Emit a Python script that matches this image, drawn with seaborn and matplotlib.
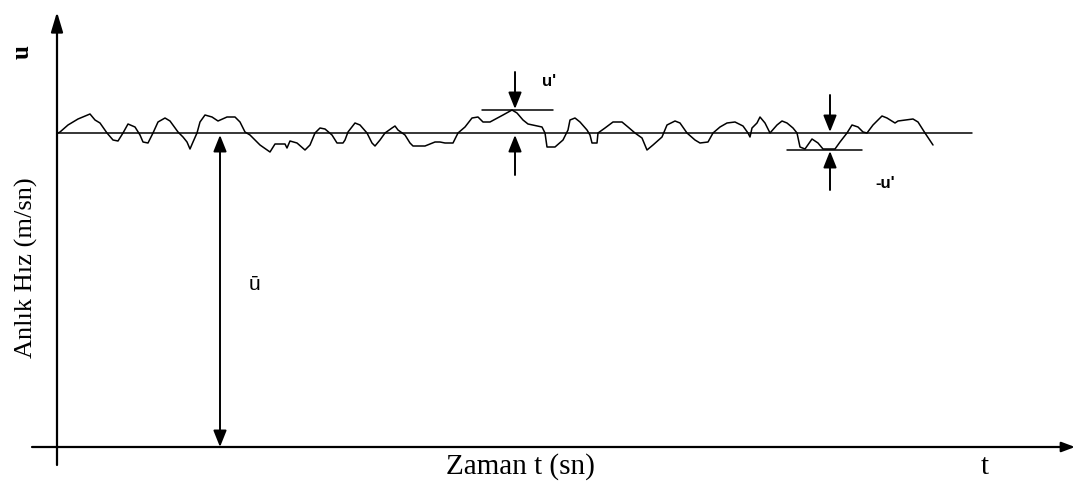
import matplotlib
matplotlib.use("Agg")
import matplotlib.pyplot as plt
import seaborn as sns
import pandas as pd

# ---- data ----
time_vals = [1, 3, 11, 21, 33, 38, 43, 50, 56, 61,
             66, 71, 78, 83, 86, 91, 96, 101, 108, 113,
             121, 126, 130, 133, 136, 140, 143, 148, 155, 161,
             170, 178, 183, 188, 193, 203, 213, 218, 228, 230,
             233, 240, 248, 253, 258, 263, 268, 275, 280, 286,
             288, 291, 298, 303, 310, 315, 318, 323, 328, 335,
             338, 341, 348, 353, 356, 368, 378, 383, 388, 396,
             401, 408, 415, 421, 426, 433, 446, 455, 460, 466,
             471, 485, 488, 490, 498, 506, 511, 513, 518, 523,
             530, 533, 535, 540, 541, 548, 556, 565, 571, 578,
             585, 590, 596, 605, 610, 618, 623, 630, 638, 643,
             651, 656, 663, 670, 678, 686, 691, 693, 695, 700,
             703, 708, 713, 720, 725, 730, 736, 740, 743, 748,
             755, 761, 766, 778, 783, 790, 795, 801, 806, 810,
             816, 825, 830, 838, 841, 856, 861, 868, 876]
fluctuation = [0, 1, 8, 14, 19, 13, 10, 0, -7, -8,
               0, 9, 6, -2, -9, -10, 0, 11, 15, 12,
               1, -4, -9, -16, -9, 0, 11, 18, 16, 12,
               16, 16, 11, 1, -2, -12, -19, -11, -11, -15,
               -8, -10, -17, -12, 0, 5, 4, -2, -10, -10,
               -7, 1, 10, 8, 0, -10, -13, -7, 0, 5,
               7, 3, -2, -10, -13, -13, -9, -9, -10, -10,
               0, 6, 15, 16, 11, 11, 18, 23, 20, 13,
               9, 6, 0, -14, -14, -7, 3, 13, 15, 11,
               3, -2, -10, -10, 0, 5, 11, 11, 6, 0,
               -5, -17, -12, -4, 8, 12, 10, 0, -7, -10,
               -9, 0, 6, 10, 11, 7, 0, -4, 5, 10,
               16, 10, 0, 8, 12, 10, 5, 0, -14, -16,
               -6, -10, -16, -16, -9, 0, 8, 6, 1, 0,
               8, 17, 15, 10, 12, 14, 11, 0, -12]
U_MEAN = 314           # mean velocity level (u bar)
U_PRIME_POS = 23       # positive fluctuation u'
U_PRIME_NEG = -17      # negative fluctuation -u'
T_PRIME_POS = 458      # time where u' is marked
T_PRIME_NEG = 773      # time where -u' is marked
T_UBAR = 163           # time where u bar arrow is drawn
T_END_MEAN = 915       # end of mean line

x_label = "Zaman t (sn)"
y_label = "Anlık Hız (m/sn)"

assert len(time_vals) == len(fluctuation)

df = pd.DataFrame({"t": time_vals,
                   "u": [U_MEAN + f for f in fluctuation]})

sns.set_theme(style="white")
plt.rcParams["font.family"] = ["Liberation Serif", "DejaVu Serif"]

fig = plt.figure(figsize=(10.81, 4.88), dpi=100)
ax = fig.add_axes([0, 0, 1, 1])
ax.set_xlim(-57, 1024)
ax.set_ylim(-41, 447)
ax.axis("off")

# signal
sns.lineplot(data=df, x="t", y="u", ax=ax, color="black", lw=1.1,
             sort=False, estimator=None, legend=False)

# mean line
ax.plot([0, T_END_MEAN], [U_MEAN, U_MEAN], color="black", lw=1.1)

def arrow(x0, y0, x1, y1, style="-|>", hl=0.55, hw=0.2, lw=1.4):
    ax.annotate("", xy=(x1, y1), xytext=(x0, y0),
                arrowprops=dict(arrowstyle=f"{style},head_length={hl},head_width={hw}",
                                color="black", lw=lw, shrinkA=0, shrinkB=0,
                                mutation_scale=20))

# axes
arrow(0, -18, 0, 435, hl=0.6, hw=0.18, lw=1.6)
arrow(-25, 0, 1018, 0, hl=0.4, hw=0.15, lw=1.6)

# u bar arrow
arrow(T_UBAR, 0, T_UBAR, U_MEAN - 2, style="<|-|>", hl=0.5, hw=0.2, lw=1.4)

# u' marks
ax.plot([T_PRIME_POS - 33, T_PRIME_POS + 38],
        [U_MEAN + U_PRIME_POS] * 2, color="black", lw=1.1)
arrow(T_PRIME_POS, 375, T_PRIME_POS, U_MEAN + U_PRIME_POS + 1, hl=0.5, hw=0.2)
arrow(T_PRIME_POS, 272, T_PRIME_POS, U_MEAN - 2, hl=0.5, hw=0.2)

# -u' marks
ax.plot([T_PRIME_NEG - 43, T_PRIME_NEG + 32],
        [U_MEAN + U_PRIME_NEG] * 2, color="black", lw=1.1)
arrow(T_PRIME_NEG, 352, T_PRIME_NEG, U_MEAN + 1, hl=0.5, hw=0.2)
arrow(T_PRIME_NEG, 257, T_PRIME_NEG, U_MEAN + U_PRIME_NEG - 1, hl=0.5, hw=0.2)

# texts
sans = ["Liberation Sans", "DejaVu Sans"]
serif = ["Liberation Serif", "DejaVu Serif"]
ax.text(-35, 395, "u", rotation=90, ha="center", va="center",
        fontsize=18, fontweight="bold", family=serif, color="black")
ax.text(-31, 179, y_label, rotation=90, ha="center", va="center",
        fontsize=19, family=serif, color="black")
ax.text(197, 163, "ū", ha="center", va="center", fontsize=15,
        family=sans, color="black")
ax.text(492, 365, "u'", ha="center", va="center", fontsize=12,
        fontweight="bold", family=sans, color="black")
ax.text(828, 263, "-u'", ha="center", va="center", fontsize=12,
        fontweight="bold", family=sans, color="black")
ax.text(463, -20, x_label, ha="center", va="center", fontsize=21,
        family=serif, color="black")
ax.text(928, -20, "t", ha="center", va="center", fontsize=21,
        family=serif, color="black")

fig.savefig("out.png", dpi=100)
